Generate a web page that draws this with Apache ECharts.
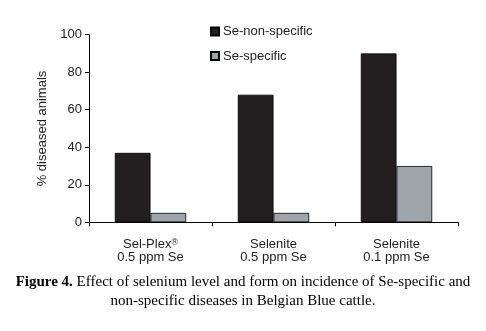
<!DOCTYPE html>
<html><head><meta charset="utf-8">
<script src="https://cdn.jsdelivr.net/npm/echarts@6/dist/echarts.min.js"></script>
<style>html,body{margin:0;padding:0;background:#fff}#c{width:486px;height:331px}</style>
</head><body><div id="c"></div>
<script>
const categories = ["Sel-Plex®\n0.5 ppm Se", "Selenite\n0.5 ppm Se", "Selenite\n0.1 ppm Se"];
const nonSpecific = [37, 68, 90];
const specific = [5, 5, 30];
const yTicks = [0, 20, 40, 60, 80, 100];

const chart = echarts.init(document.getElementById('c'), null, {renderer: 'canvas'});
const sans = 'Arial, "Liberation Sans", sans-serif';
const serif = '"Times New Roman", "Liberation Serif", serif';
chart.setOption({
  animation: false,
  grid: {left: 89, right: 28, top: 34.7, bottom: 108.7, containLabel: false},
  legend: {
    orient: 'vertical', left: 210, top: 25, padding: 0, itemWidth: 8, itemHeight: 8, itemGap: 11.5,
    icon: 'rect',
    textStyle: {fontFamily: sans, fontSize: 13, color: '#222', padding: [0, 0, 0, -1]},
    data: ['Se-non-specific', 'Se-specific']
  },
  xAxis: {
    type: 'category', data: categories,
    axisLine: {lineStyle: {color: '#000', width: 1}},
    axisTick: {show: true, length: 4, lineStyle: {color: '#000'}},
    axisLabel: {fontFamily: sans, fontSize: 13, color: '#222', lineHeight: 13, margin: 16,
      formatter: v => v.replace('®', '{sup|®}'),
      rich: {sup: {fontFamily: sans, fontSize: 9, color: '#222', verticalAlign: 'top', lineHeight: 13, padding: [0, 0, 4, 0]}}}
  },
  yAxis: {
    type: 'value', min: 0, max: 100, interval: 20,
    name: '% diseased animals', nameLocation: 'middle', nameGap: 40,
    nameTextStyle: {fontFamily: sans, fontSize: 13, color: '#222'},
    axisLine: {show: true, lineStyle: {color: '#000', width: 1}},
    axisTick: {show: true, length: 4, lineStyle: {color: '#000'}},
    splitLine: {show: false},
    axisLabel: {fontFamily: sans, fontSize: 13, color: '#222', margin: 7,
      formatter: v => yTicks.includes(v) ? String(v) : ''}
  },
  series: [
    {name: 'Se-non-specific', type: 'bar', data: nonSpecific, barWidth: '29%', barGap: '0%',
      itemStyle: {color: '#231f20', borderColor: '#000', borderWidth: 0.8}},
    {name: 'Se-specific', type: 'bar', data: specific, barWidth: '29%',
      itemStyle: {color: '#9ea5aa', borderColor: '#000', borderWidth: 0.8}}
  ],
  graphic: [
    {type: 'text', left: 'center', top: 275, style: {
      text: '{b|Figure 4.} Effect of selenium level and form on incidence of Se-specific and',
      fontFamily: serif, fontSize: 15, fill: '#000',
      rich: {b: {fontFamily: serif, fontSize: 15, fontWeight: 'bold', fill: '#000'}}}},
    {type: 'text', left: 'center', top: 294, style: {
      text: 'non-specific diseases in Belgian Blue cattle.',
      fontFamily: serif, fontSize: 15, fill: '#000'}}
  ]
});
</script></body></html>
